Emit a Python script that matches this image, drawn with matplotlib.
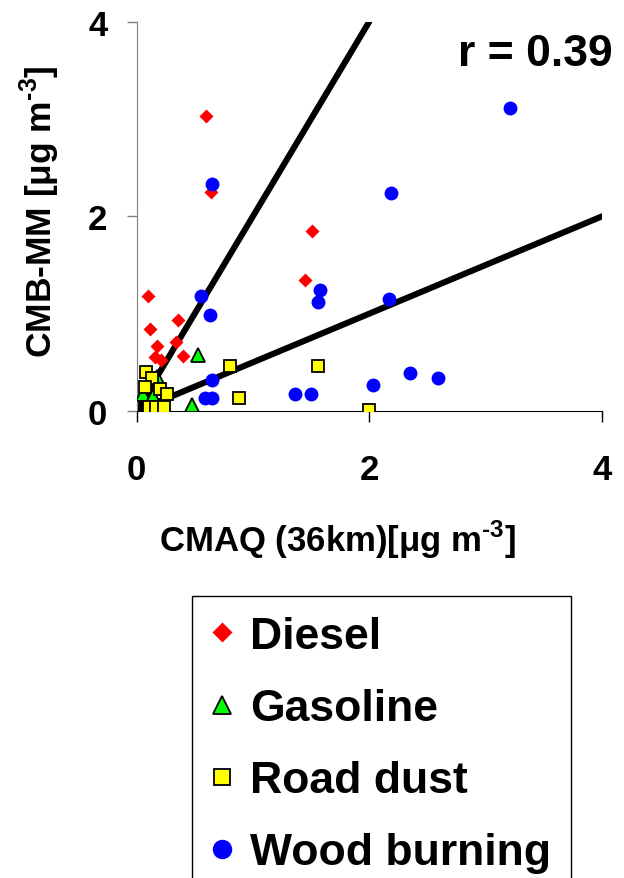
import matplotlib
matplotlib.use('Agg')
import matplotlib.pyplot as plt

plt.rcParams['font.family'] = ['Liberation Sans', 'DejaVu Sans']
plt.rcParams['font.weight'] = 'bold'
plt.rcParams['mathtext.fontset'] = 'custom'
plt.rcParams['mathtext.rm'] = 'Liberation Sans:bold'
plt.rcParams['mathtext.bf'] = 'Liberation Sans:bold'

# CMAQ (x) vs CMB-MM (y), ug/m3
diesel_x = [0.60, 0.64, 1.51, 1.45, 0.10, 0.36, 0.12, 0.18, 0.34, 0.40, 0.16, 0.21]
diesel_y = [3.03, 2.25, 1.85, 1.35, 1.18, 0.93, 0.84, 0.67, 0.71, 0.57, 0.55, 0.52]

gas_x = [0.53, 0.48, 0.18, 0.06, 0.14]
gas_y = [0.58, 0.06, 0.35, 0.17, 0.15]

dust_x = [2.00, 1.56, 0.80, 0.88, 0.08, 0.13, 0.07, 0.20, 0.26, 0.11, 0.17, 0.24]
dust_y = [0.01, 0.46, 0.46, 0.13, 0.40, 0.34, 0.25, 0.23, 0.17, 0.04, 0.04, 0.04]

wood_x = [3.21, 0.65, 2.19, 1.58, 1.56, 2.17, 0.55, 0.63, 0.65, 0.59, 0.65,
          1.36, 1.50, 2.03, 2.35, 2.59]
wood_y = [3.11, 2.33, 2.24, 1.24, 1.12, 1.15, 1.18, 0.99, 0.32, 0.13, 0.13,
          0.175, 0.175, 0.27, 0.39, 0.34]

line_x = [0, 2, 4]
line_2to1 = [0, 4]   # y = 2x, ends at x=2
line_1to2 = [0, 2]   # y = x/2, ends at x=4

r_text = 'r = 0.39'

W, H = 624, 879
fig = plt.figure(figsize=(W / 100, H / 100), dpi=100)
ax = fig.add_axes([136.5 / W, 1 - 412 / H, (602 - 136.5) / W, (412 - 22.7) / H])

ax.plot(line_x[:2], line_2to1, color='k', lw=4.4, solid_capstyle='round', zorder=2)
ax.plot([line_x[0], line_x[2]], line_1to2, color='k', lw=4.4, solid_capstyle='round', zorder=2)

ax.plot(diesel_x, diesel_y, 'D', ms=7.5, color='#ff0000', mec='none', label='Diesel', zorder=3)
ax.plot(gas_x, gas_y, '^', ms=9.5, color='#00ff00', mec='k', mew=1.3, label='Gasoline', zorder=3)
ax.plot(dust_x, dust_y, 's', ms=8.5, color='#ffff00', mec='k', mew=1.3, label='Road dust', zorder=3)
ax.plot(wood_x, wood_y, 'o', ms=10, color='#0000ff', mec='none', label='Wood burning', zorder=3)

ax.set_xlim(0, 4)
ax.set_ylim(0, 4)
ax.set_xticks([0, 2, 4])
ax.set_yticks([0, 2, 4])
for s in ['top', 'right']:
    ax.spines[s].set_visible(False)
ax.spines['left'].set_color('#808080')
ax.spines['bottom'].set_color('k')
ax.tick_params(axis='x', direction='out', length=8, width=1, pad=22, labelsize=25)
ax.tick_params(axis='y', direction='out', length=7, width=1, pad=14, labelsize=25,
               color='#808080')
for lab in ax.get_xticklabels() + ax.get_yticklabels():
    lab.set_fontweight('bold')
for sp in ax.spines.values():
    sp.set_clip_on(False)

ax.set_xlabel('CMAQ (36km)[\u03bcg m$^{\\text{-3}}$]', fontsize=25, fontweight='bold')
ax.xaxis.set_label_coords((338 - 136.5) / (602 - 136.5), -(540 - 412) / (412 - 22.7), transform=ax.transAxes)
ax.xaxis.label.set_va('center')
ax.set_ylabel('CMB-MM [\u03bcg m$^{\\text{-3}}$]', fontsize=25.5, fontweight='bold')
ax.yaxis.set_label_coords(-(136.5 - 40) / (602 - 136.5), (412 - 212) / (412 - 22.7), transform=ax.transAxes)
ax.yaxis.label.set_va('center')

fig.text(613 / W, 1 - 55 / H, r_text, fontsize=32, fontweight='bold', ha='right', va='center')

leg = ax.legend(loc='upper left', bbox_to_anchor=(192 / W, 1 - 597 / H),
                bbox_transform=fig.transFigure, borderaxespad=0, borderpad=0.45,
                handlelength=0.45, handletextpad=0.4, labelspacing=0.7,
                prop={'size': 32, 'weight': 'bold'}, fancybox=False,
                edgecolor='k', framealpha=1, markerscale=1.4)
leg.get_frame().set_linewidth(1)

fig.savefig('out.png', dpi=100)
